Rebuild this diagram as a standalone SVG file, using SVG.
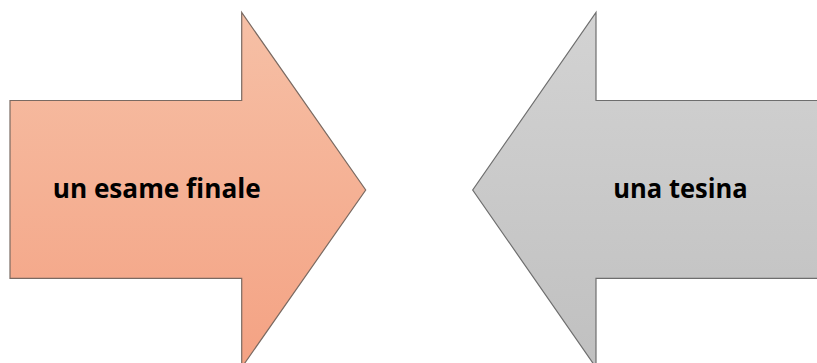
<svg xmlns="http://www.w3.org/2000/svg" width="817" height="363" viewBox="0 0 817 363">
<defs>
<linearGradient id="gOrange" x1="0" y1="0" x2="0" y2="1">
<stop offset="0" stop-color="#F6C0A6"/>
<stop offset="1" stop-color="#F4A283"/>
</linearGradient>
<linearGradient id="gGrey" x1="0" y1="0" x2="0" y2="1">
<stop offset="0" stop-color="#D3D3D3"/>
<stop offset="1" stop-color="#C0C0C0"/>
</linearGradient>
<style>
.lbl{font-family:"Open Sans","Liberation Sans",sans-serif;font-weight:bold;font-size:26px;fill:#000;text-anchor:middle}
</style>
</defs>
<rect width="817" height="363" fill="#fff"/>
<g id="arrow-left">
<path d="M10,100.5 L241.7,100.5 L241.7,12.5 L365.7,190 L241.7,367.5 L241.7,278.3 L10,278.3 Z" fill="url(#gOrange)" stroke="#7a6a62" stroke-width="1.2"/>
<text class="lbl" x="156.7" y="198.3" textLength="208" lengthAdjust="spacingAndGlyphs">un esame finale</text>
</g>
<g id="arrow-right">
<path d="M830,100.5 L596,100.5 L596,12.5 L472.7,190 L596,367.5 L596,278.3 L830,278.3 Z" fill="url(#gGrey)" stroke="#6e6e6e" stroke-width="1.2"/>
<text class="lbl" x="680.5" y="198.3" textLength="134.4" lengthAdjust="spacingAndGlyphs">una tesina</text>
</g>
<g id="connectors"/>
</svg>
